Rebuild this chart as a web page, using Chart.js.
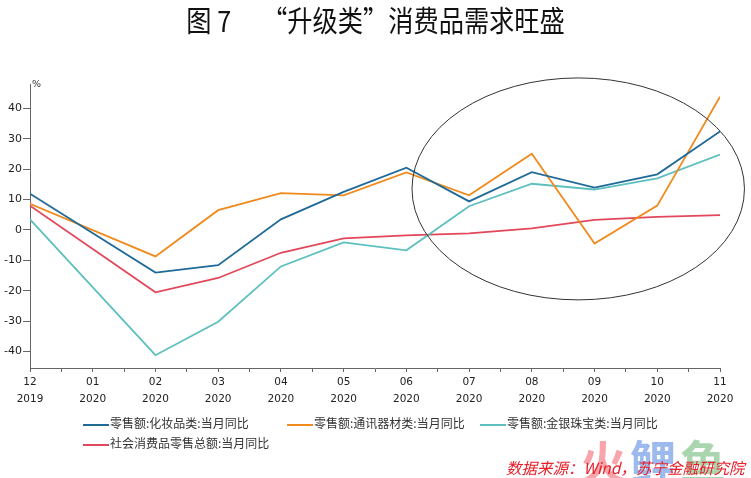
<!DOCTYPE html>
<html>
<head>
<meta charset="utf-8">
<script src="https://cdn.jsdelivr.net/npm/chart.js@4/dist/chart.umd.min.js"></script>
<style>
  body { margin: 0; background: #fff; }
  #wrap { position: relative; width: 751px; height: 478px; overflow: hidden; }
  #chart { position: absolute; left: 0; top: 0; }
  #title { position: absolute; left: 0; width: 751px; top: -2px; text-align: center;
    font-family: "Noto Sans CJK SC", sans-serif; font-size: 29px; color: #111; white-space: pre; }
  #title span { display: inline-block; transform: scaleX(0.87); }
  .leg { position: absolute; font-family: "Noto Sans CJK SC", sans-serif; font-size: 12px; color: #333;
    line-height: 14px; white-space: nowrap; }
  .leg i { display: inline-block; width: 26px; height: 2px; vertical-align: middle; margin-right: 1px; }
  #mark { position: absolute; left: 580px; top: 426px; font-family: "Noto Sans CJK SC", sans-serif;
    font-size: 46px; font-weight: bold; letter-spacing: 4px; white-space: nowrap; }
  #source { position: absolute; left: 506px; top: 456px; font-family: "Noto Sans CJK SC", sans-serif;
    font-size: 15.5px; font-style: italic; color: #e8202a; white-space: nowrap; }
  #unit { position: absolute; left: 32px; top: 78px; font-family: "DejaVu Sans", sans-serif; font-size: 9.5px; color: #333; }
</style>
</head>
<body>
<div id="wrap">
  <canvas id="chart" width="751" height="478"></canvas>
  <div id="title"><span>图 7　 “升级类”消费品需求旺盛</span></div>
  <div id="unit">%</div>
  <div id="legend"></div>
  <div id="mark"><span style="color:rgba(240,90,100,0.55)">火</span><span style="color:rgba(90,140,225,0.6)">鲤</span><span style="color:rgba(100,180,110,0.55)">鱼</span></div>
  <div id="source">数据来源：Wind，苏宁金融研究院</div>
</div>
<script>
const months = ['12', '01', '02', '03', '04', '05', '06', '07', '08', '09', '10', '11'];
const years = ['2019', '2020', '2020', '2020', '2020', '2020', '2020', '2020', '2020', '2020', '2020', '2020'];

// 01月无单独数据，线直接连到02月
const cosmetics = [11.9, null, -14.0, -11.6, 3.5, 12.5, 20.5, 9.4, 19.0, 13.9, 18.3, 32.4];
const telecom = [8.6, null, -8.7, 6.5, 12.1, 11.4, 18.9, 11.4, 25.1, -4.5, 8.0, 43.8];
const jewelry = [3.5, null, -41.2, -30.2, -12.0, -4.1, -6.7, 7.8, 15.2, 13.3, 17.0, 24.8];
const retailTotal = [8.0, null, -20.5, -15.8, -7.5, -2.8, -1.8, -1.1, 0.5, 3.3, 4.3, 4.9];

const seriesNames = ['零售额:化妆品类:当月同比', '零售额:通讯器材类:当月同比', '零售额:金银珠宝类:当月同比', '社会消费品零售总额:当月同比'];
const seriesColors = ['#1f6a98', '#f08a1c', '#5dbfbe', '#e2475a'];
const seriesData = [cosmetics, telecom, jewelry, retailTotal];

function toPoints(arr) {
  return arr.map((v, i) => ({ x: i, y: v }));
}

// 圈出7-11月的椭圆（数据坐标）
const ring = { cx: 8.74, cy: 13.5, rx: 2.65, ry: 36.5 };

const ellipsePlugin = {
  id: 'ellipse',
  afterDatasetsDraw(chart) {
    const xs = chart.scales.x, ys = chart.scales.y;
    const cx = xs.getPixelForValue(ring.cx);
    const cy = ys.getPixelForValue(ring.cy);
    const rx = xs.getPixelForValue(ring.cx + ring.rx) - cx;
    const ry = cy - ys.getPixelForValue(ring.cy + ring.ry);
    const ctx = chart.ctx;
    ctx.save();
    ctx.beginPath();
    ctx.ellipse(cx, cy, rx, ry, 0, 0, Math.PI * 2);
    ctx.strokeStyle = '#333';
    ctx.lineWidth = 1;
    ctx.stroke();
    ctx.restore();
  }
};

const datasets = seriesNames.map((name, k) => ({
  label: name,
  data: toPoints(seriesData[k]),
  borderColor: seriesColors[k],
  backgroundColor: seriesColors[k],
  borderWidth: 1.8,
  pointRadius: 0,
  tension: 0,
  spanGaps: true
}));

new Chart(document.getElementById('chart'), {
  type: 'line',
  data: { datasets: datasets },
  options: {
    responsive: false,
    animation: false,
    layout: { padding: { left: 0, right: 31, top: 84, bottom: 0 } },
    plugins: { legend: { display: false }, tooltip: { enabled: false } },
    scales: {
      x: {
        type: 'linear',
        min: 0,
        max: 11,
        afterFit: s => { s.height = 110; },
        border: { color: '#666', width: 1 },
        grid: { drawOnChartArea: false, tickLength: 4, color: '#666' },
        ticks: {
          stepSize: 0.5,
          autoSkip: false,
          maxRotation: 0,
          padding: 2,
          color: '#222',
          font: { family: 'DejaVu Sans', size: 10.5, lineHeight: 1.6 },
          callback: v => Number.isInteger(v) ? [months[v], years[v]] : ''
        }
      },
      y: {
        min: -45.4,
        max: 48,
        afterFit: s => { s.width = 30; },
        afterBuildTicks: s => { s.ticks = s.ticks.filter(t => t.value % 10 === 0); },
        border: { color: '#666', width: 1 },
        grid: { drawOnChartArea: false, tickLength: 7, color: '#666' },
        ticks: {
          stepSize: 10,
          padding: 1,
          color: '#222',
          font: { family: 'DejaVu Sans', size: 11 }
        }
      }
    }
  },
  plugins: [ellipsePlugin]
});

// 图例
const legendPos = [[83, 416], [287, 416], [480, 416], [83, 436]];
const legend = document.getElementById('legend');
seriesNames.forEach((name, k) => {
  const d = document.createElement('div');
  d.className = 'leg';
  d.style.left = legendPos[k][0] + 'px';
  d.style.top = legendPos[k][1] + 'px';
  d.innerHTML = '<i style="background:' + seriesColors[k] + '"></i>' + name;
  legend.appendChild(d);
});
</script>
</body>
</html>
